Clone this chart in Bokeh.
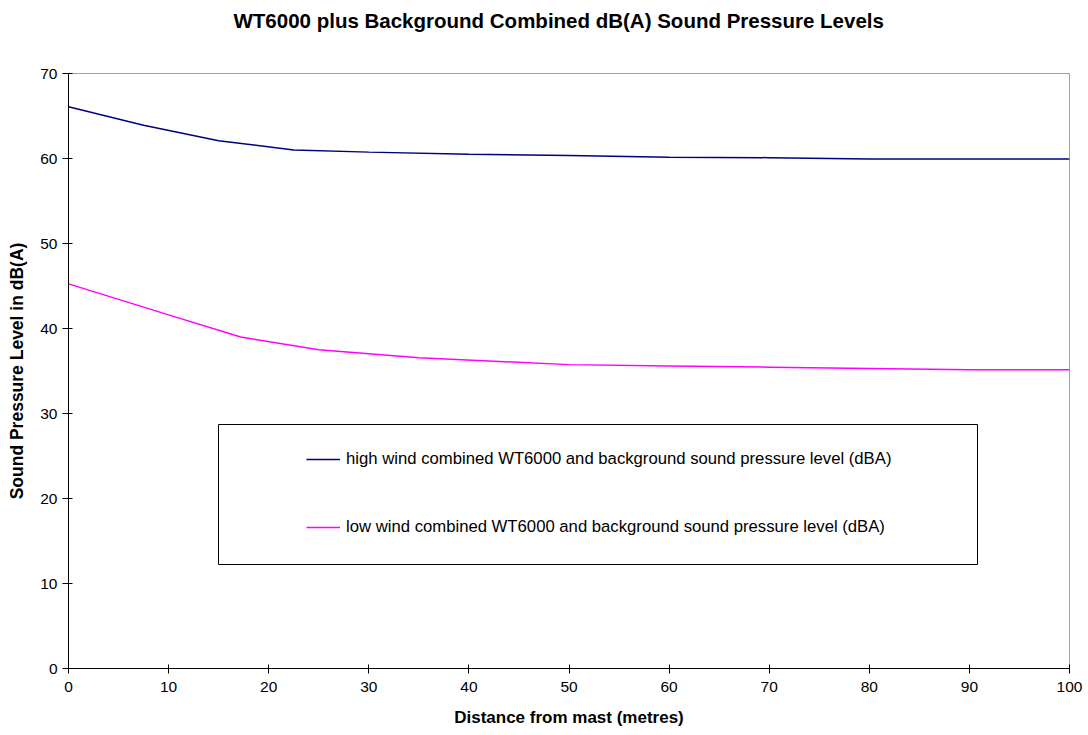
from bokeh.plotting import figure
from bokeh.models import Range1d, Legend, LegendItem, BoxAnnotation, FixedTicker, Title
from bokeh.embed import file_html
from bokeh.resources import INLINE

# ---- data ----
high_x = [0, 7.5, 15, 22.5, 30, 40, 50, 60, 70, 80, 90, 100]
high_y = [66.1, 63.9, 62.1, 61.0, 60.75, 60.5, 60.35, 60.15, 60.1, 59.95, 59.95, 59.95]
low_x = [0, 10, 17.2, 25, 35, 50, 60, 70, 80, 90, 100]
low_y = [45.25, 41.6, 39.0, 37.5, 36.55, 35.75, 35.6, 35.45, 35.3, 35.15, 35.15]
x_ticks = [0, 10, 20, 30, 40, 50, 60, 70, 80, 90, 100]
y_ticks = [0, 10, 20, 30, 40, 50, 60, 70]
high_label = "high wind combined WT6000 and background sound pressure level (dBA)"
low_label = "low wind combined WT6000 and background sound pressure level (dBA)"
title = "WT6000 plus Background Combined dB(A) Sound Pressure Levels"

FONT = "Liberation Sans"

p = figure(width=1088, height=735, output_backend="svg", toolbar_location=None,
           x_range=Range1d(0, 100), y_range=Range1d(0, 70),
           min_border_left=68, min_border_right=19, min_border_top=73,
           min_border_bottom=67)
p.title.text = title
p.title.text_font = FONT
p.title.text_font_size = "20.5px"
p.title.text_font_style = "bold"
p.title.text_color = "black"
p.title.align = "left"
p.title.offset = 165
p.title.standoff = 0

# spacer (closest to the frame) pushing the title upwards
spacer = Title(text=" ", text_font_size="10px", standoff=29)
p.add_layout(spacer, "above")

p.background_fill_color = "white"
p.border_fill_color = "white"
p.outline_line_color = "#a0a0a0"
p.outline_line_width = 1
p.xgrid.visible = False
p.ygrid.visible = False

for ax in (p.xaxis[0], p.yaxis[0]):
    ax.axis_line_color = "black"
    ax.axis_line_width = 1
    ax.major_tick_line_color = "black"
    ax.minor_tick_line_color = None
    ax.major_label_text_font = FONT
    ax.major_label_text_font_size = "15.5px"
    ax.major_label_text_color = "black"
    ax.axis_label_text_font = FONT
    ax.axis_label_text_font_style = "bold"
    ax.axis_label_text_color = "black"

p.xaxis.ticker = FixedTicker(ticks=x_ticks)
p.yaxis.ticker = FixedTicker(ticks=y_ticks)
p.xaxis.major_tick_in = 4
p.xaxis.major_tick_out = 5
p.yaxis.major_tick_in = 4
p.yaxis.major_tick_out = 6
p.xaxis.major_label_standoff = 8
p.yaxis.major_label_standoff = 5
p.xaxis.axis_label = "Distance from mast (metres)"
p.yaxis.axis_label = "Sound Pressure Level in dB(A)"
p.xaxis.axis_label_text_font_size = "17px"
p.yaxis.axis_label_text_font_size = "17.5px"
p.xaxis.axis_label_standoff = 13
p.yaxis.axis_label_standoff = 10

r_high = p.line(high_x, high_y, line_color="#000080", line_width=1.5)
r_low = p.line(low_x, low_y, line_color="#FF00FF", line_width=1.5)

box = BoxAnnotation(left=150, right=909, bottom=104, top=244,
                    left_units="screen", right_units="screen",
                    bottom_units="screen", top_units="screen",
                    fill_color="white", fill_alpha=1.0,
                    line_color="black", line_alpha=1.0, line_width=1)
p.add_layout(box)

legend = Legend(items=[LegendItem(label=high_label, renderers=[r_high]),
                       LegendItem(label=low_label, renderers=[r_low])],
                location=(238, 131), orientation="vertical",
                glyph_width=34, glyph_height=20, label_height=20,
                label_standoff=6, spacing=48, padding=0, margin=0,
                border_line_color=None, background_fill_alpha=0,
                label_text_font=FONT, label_text_font_size="16.7px",
                label_text_color="black")
p.add_layout(legend)

open("out.html", "w").write(file_html(p, INLINE))
